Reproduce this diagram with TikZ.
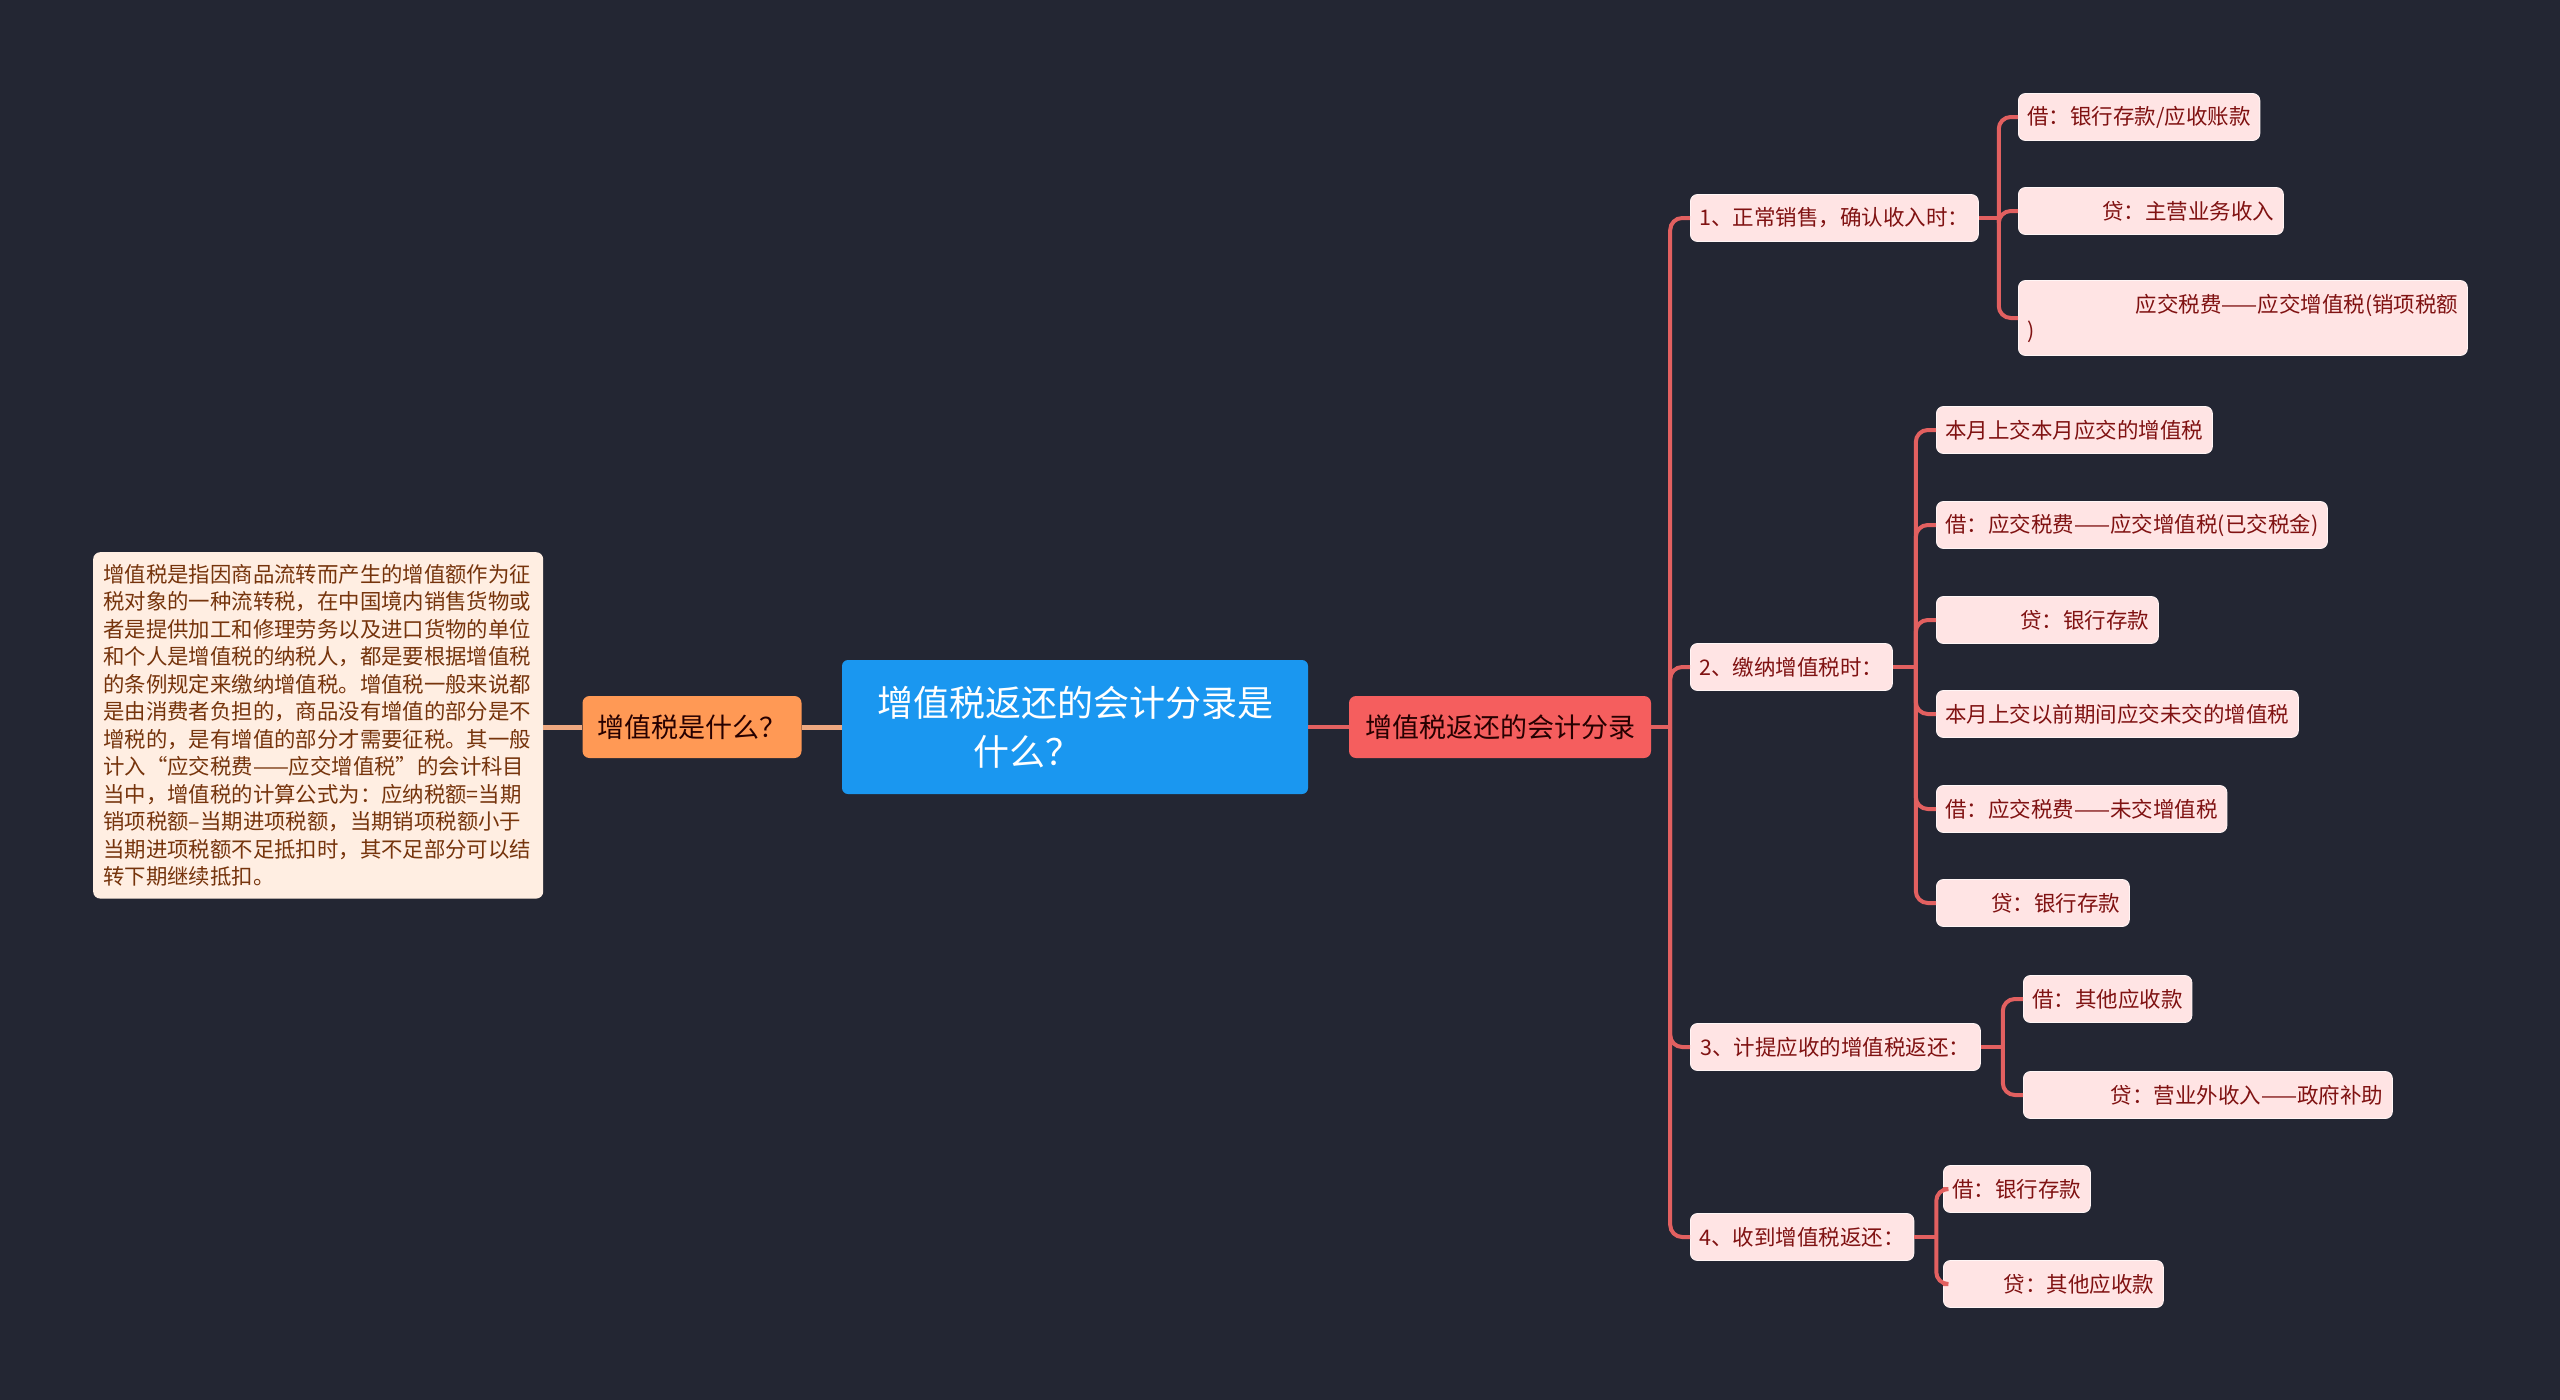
\documentclass[tikz,border=0pt]{standalone}
\usepackage{fontspec}
\newfontfamily\cjk{Noto Sans CJK SC}
\usepackage{tikz}
\usetikzlibrary{positioning, calc}
\definecolor{bgnavy}{RGB}{35,38,51}
\definecolor{rootblue}{RGB}{26,151,240}
\definecolor{topicorange}{RGB}{255,153,85}
\definecolor{topicred}{RGB}{245,94,94}
\definecolor{linkorange}{RGB}{238,168,128}
\definecolor{linkred}{RGB}{226,96,96}
\definecolor{leafpink}{RGB}{255,228,228}
\definecolor{leafedge}{RGB}{255,245,245}
\definecolor{leaftext}{RGB}{128,18,18}
\definecolor{notefill}{RGB}{255,238,226}
\definecolor{notetext}{RGB}{118,52,12}
\tikzstyle{root} = [rectangle, rounded corners=6pt, fill=rootblue, text=white,
    font=\cjk\fontsize{36}{49}\selectfont, minimum width=466pt, minimum height=134pt, align=left]
\tikzstyle{topic} = [rectangle, rounded corners=7pt, text=black!85!red,
    font=\cjk\fontsize{27}{32}\selectfont, minimum height=62pt, inner xsep=10pt]
\tikzstyle{entry} = [rectangle, rounded corners=7pt, fill=leafpink, draw=leafedge, line width=0.8pt,
    text=leaftext, font=\cjk\fontsize{21.5}{26}\selectfont, minimum height=47pt, inner xsep=9pt, anchor=west]
\tikzstyle{note} = [rectangle, rounded corners=7pt, fill=notefill, text=notetext,
    font=\cjk\fontsize{21.4}{27.5}\selectfont, text width=430pt, align=left, inner xsep=10pt, inner ysep=12pt,
    anchor=north west]
\tikzstyle{rlink} = [line width=4pt, draw=linkred, rounded corners=12pt]
\tikzstyle{olink} = [line width=5pt, draw=linkorange]

\begin{document}
\begin{tikzpicture}[x=1pt, y=-1pt]
    \fill[bgnavy] (0,0) rectangle (2560,1400);
    \useasboundingbox (0,0) rectangle (2560,1400);

    % centre and left side
    \node (root) [root] at (1075,727) {增值税返还的会计分录是\\\hspace*{96pt}什么？};
    \node (what) [topic, fill=topicorange, minimum width=219pt] at (692,727) {增值税是什么？};
    \node (note) [note] at (93,552) {增值税是指因商品流转而产生的增值额作为征\\
        税对象的一种流转税，在中国境内销售货物或\\
        者是提供加工和修理劳务以及进口货物的单位\\
        和个人是增值税的纳税人，都是要根据增值税\\
        的条例规定来缴纳增值税。增值税一般来说都\\
        是由消费者负担的，商品没有增值的部分是不\\
        增税的，是有增值的部分才需要征税。其一般\\
        计入“应交税费——应交增值税”的会计科目\\
        当中，增值税的计算公式为：应纳税额=当期\\
        销项税额–当期进项税额，当期销项税额小于\\
        当期进项税额不足抵扣时，其不足部分可以结\\
        转下期继续抵扣。};

    \draw [olink] (root.west) -- (what.east);
    \draw [olink] (what.west) -- (note.east |- what.west);

    % right side
    \node (main) [topic, fill=topicred, minimum width=302pt] at (1500,727) {增值税返还的会计分录};

    \node (s1) [entry, minimum width=287pt] at (1690,218) {1、正常销售，确认收入时：};
    \node (s2) [entry, minimum width=202pt] at (1690,667) {2、缴纳增值税时：};
    \node (s3) [entry, minimum width=290pt] at (1690,1047) {3、计提应收的增值税返还：};
    \node (s4) [entry, minimum width=210pt] at (1690,1237) {4、收到增值税返还：};

    \node (l1a) [entry] at (2018,117) {借：银行存款/应收账款};
    \node (l1b) [entry, text width=247pt, align=right] at (2018,211) {贷：主营业务收入};
    \node (l1c) [entry, text width=431pt, align=left, minimum height=75pt] at (2018,318)
        {\hfill 应交税费——应交增值税(销项税额\\)};

    \node (l2a) [entry] at (1936,430) {本月上交本月应交的增值税};
    \node (l2b) [entry] at (1936,525) {借：应交税费——应交增值税(已交税金)};
    \node (l2c) [entry, text width=204pt, align=right] at (1936,620) {贷：银行存款};
    \node (l2d) [entry] at (1936,714) {本月上交以前期间应交未交的增值税};
    \node (l2e) [entry] at (1936,809) {借：应交税费——未交增值税};
    \node (l2f) [entry, text width=175pt, align=right] at (1936,903) {贷：银行存款};

    \node (l3a) [entry] at (2023,999) {借：其他应收款};
    \node (l3b) [entry, text width=351pt, align=right] at (2023,1095) {贷：营业外收入——政府补助};

    \node (l4a) [entry] at (1943,1189) {借：银行存款};
    \node (l4b) [entry, text width=202pt, align=right] at (1943,1284) {贷：其他应收款};

    \draw [rlink] (root.east) -- (main.west);
    \coordinate (spine) at ($(main.east)+(19,0)$);
    \draw [rlink] (main.east) -- (spine);
    \foreach \s in {s1,s2,s3,s4}
        \draw [rlink] (spine) |- (\s.west);

    \coordinate (k1) at ($(s1.east)+(20,0)$);
    \coordinate (k2) at ($(s2.east)+(23,0)$);
    \coordinate (k3) at ($(s3.east)+(22,0)$);
    \coordinate (k4) at ($(s4.east)+(22,0)$);
    \draw [rlink] (s1.east) -- (k1);
    \draw [rlink] (s2.east) -- (k2);
    \draw [rlink] (s3.east) -- (k3);
    \draw [rlink] (s4.east) -- (k4);
    \foreach \l in {l1a,l1b,l1c}
        \draw [rlink] (k1) |- (\l.west);
    \foreach \l in {l2a,l2b,l2c,l2d,l2e,l2f}
        \draw [rlink] (k2) |- (\l.west);
    \foreach \l in {l3a,l3b}
        \draw [rlink] (k3) |- (\l.west);
    \foreach \l in {l4a,l4b}
        \draw [rlink] (k4) |- (\l.west);
\end{tikzpicture}
\end{document}
